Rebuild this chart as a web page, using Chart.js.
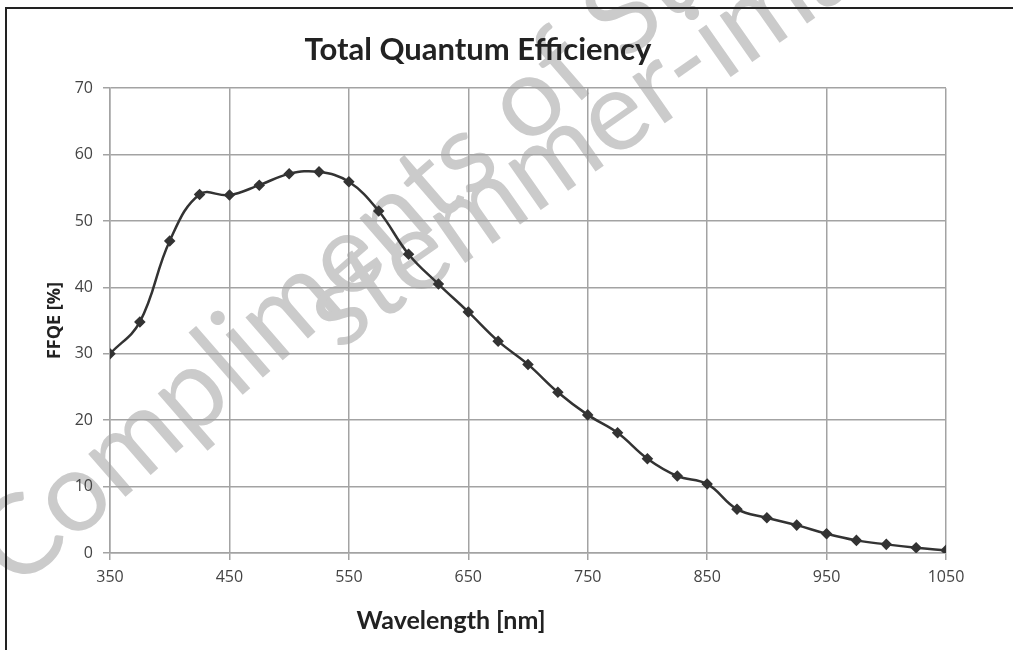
<!DOCTYPE html>
<html><head><meta charset="utf-8">
<script src="https://cdn.jsdelivr.net/npm/chart.js@4"></script>
<style>
html,body{margin:0;padding:0;background:#fff;}
#wrap{position:relative;width:1013px;height:650px;overflow:hidden;}
#frame{position:absolute;left:5px;top:7px;right:-5px;bottom:-5px;border-top:2px solid #222;border-left:2px solid #222;pointer-events:none;}
canvas{display:block;}
</style></head><body>
<div id="wrap"><canvas id="c" width="1013" height="650"></canvas><div id="frame"></div></div>
<script>
const chartTitle = 'Total Quantum Efficiency';
const xAxisTitle = 'Wavelength [nm]';
const yAxisTitle = 'FFQE [%]';
const wavelengths = [350,375,400,425,450,475,500,525,550,575,600,625,650,675,700,725,750,775,800,825,850,875,900,925,950,975,1000,1025,1050];
const ffqe = [30.0,34.8,47.0,54.0,53.9,55.4,57.1,57.4,55.9,51.5,45.0,40.5,36.3,31.9,28.4,24.2,20.8,18.1,14.2,11.6,10.4,6.6,5.3,4.2,2.9,1.9,1.3,0.8,0.4];
const xTicks = [350,450,550,650,750,850,950,1050];
const yTicks = [0,10,20,30,40,50,60,70];
const watermarkLines = ['Compliments of Stemmer', 'stemmer-imaging.de'];

const watermark = {
  id: 'watermark',
  beforeDraw(chart) {
    const ctx = chart.ctx;
    const items = [
      {text: watermarkLines[0], x: 16, y: 592, deg: -41},
      {text: watermarkLines[1], x: 338, y: 352, deg: -35}
    ];
    items.forEach(it => {
      ctx.save();
      ctx.fillStyle = '#cbcbcb';
      ctx.font = '112px Lato';
      ctx.textBaseline = 'alphabetic';
      ctx.translate(it.x, it.y);
      ctx.rotate(it.deg * Math.PI / 180);
      ctx.fillText(it.text, 0, 0);
      ctx.restore();
    });
  }
};

const xTitle = {
  id: 'xTitle',
  afterDraw(chart) {
    const {ctx, chartArea} = chart;
    ctx.save();
    ctx.font = 'bold 25px Lato';
    ctx.fillStyle = '#222';
    ctx.textAlign = 'center';
    ctx.textBaseline = 'alphabetic';
    ctx.fillText(xAxisTitle, chartArea.left + 341, chartArea.bottom + 76);
    ctx.restore();
  }
};

const gridColor = '#a3a3a3';
const tickFont = {family: 'Open Sans', size: 16};

new Chart(document.getElementById('c'), {
  type: 'line',
  data: {
    datasets: [{
      data: wavelengths.map((w, i) => ({x: w, y: ffqe[i]})),
      borderColor: '#333',
      backgroundColor: '#333',
      borderWidth: 2.5,
      tension: 0.4,
      pointStyle: 'rectRot',
      pointRadius: 4,
      pointHoverRadius: 4,
      fill: false
    }]
  },
  options: {
    responsive: false,
    animation: false,
    devicePixelRatio: 1,
    layout: {padding: {left: 10, right: 67, top: 0, bottom: 0}},
    plugins: {
      legend: {display: false},
      tooltip: {enabled: false},
      title: {
        display: true,
        text: chartTitle,
        color: '#222',
        font: {family: 'Lato', size: 31, weight: 'bold'},
        padding: {top: 31, bottom: 20}
      }
    },
    scales: {
      x: {
        type: 'linear',
        min: 350, max: 1050,
        afterBuildTicks(s) { s.ticks = xTicks.map(v => ({value: v})); },
        afterFit(s) { s.height = 97; },
        grid: {color: gridColor, lineWidth: 1.5, tickLength: 7, tickColor: gridColor},
        border: {color: gridColor, width: 1.5},
        ticks: {color: '#444', font: tickFont, padding: 8, maxRotation: 0, autoSkip: false,
                callback: v => String(v)}
      },
      y: {
        min: 0, max: 70,
        afterBuildTicks(s) { s.ticks = yTicks.map(v => ({value: v})); },
        afterFit(s) { s.width = 100; },
        grid: {color: gridColor, lineWidth: 1.5, tickLength: 7, tickColor: gridColor},
        border: {color: gridColor, width: 1.5},
        ticks: {color: '#444', font: tickFont, padding: 10, callback: v => String(v)},
        title: {
          display: true,
          text: yAxisTitle,
          color: '#222',
          font: {family: 'Open Sans', size: 18, weight: 'bold'},
          padding: {top: 34, bottom: 0}
        }
      }
    }
  },
  plugins: [watermark, xTitle]
});
</script>
</body></html>
